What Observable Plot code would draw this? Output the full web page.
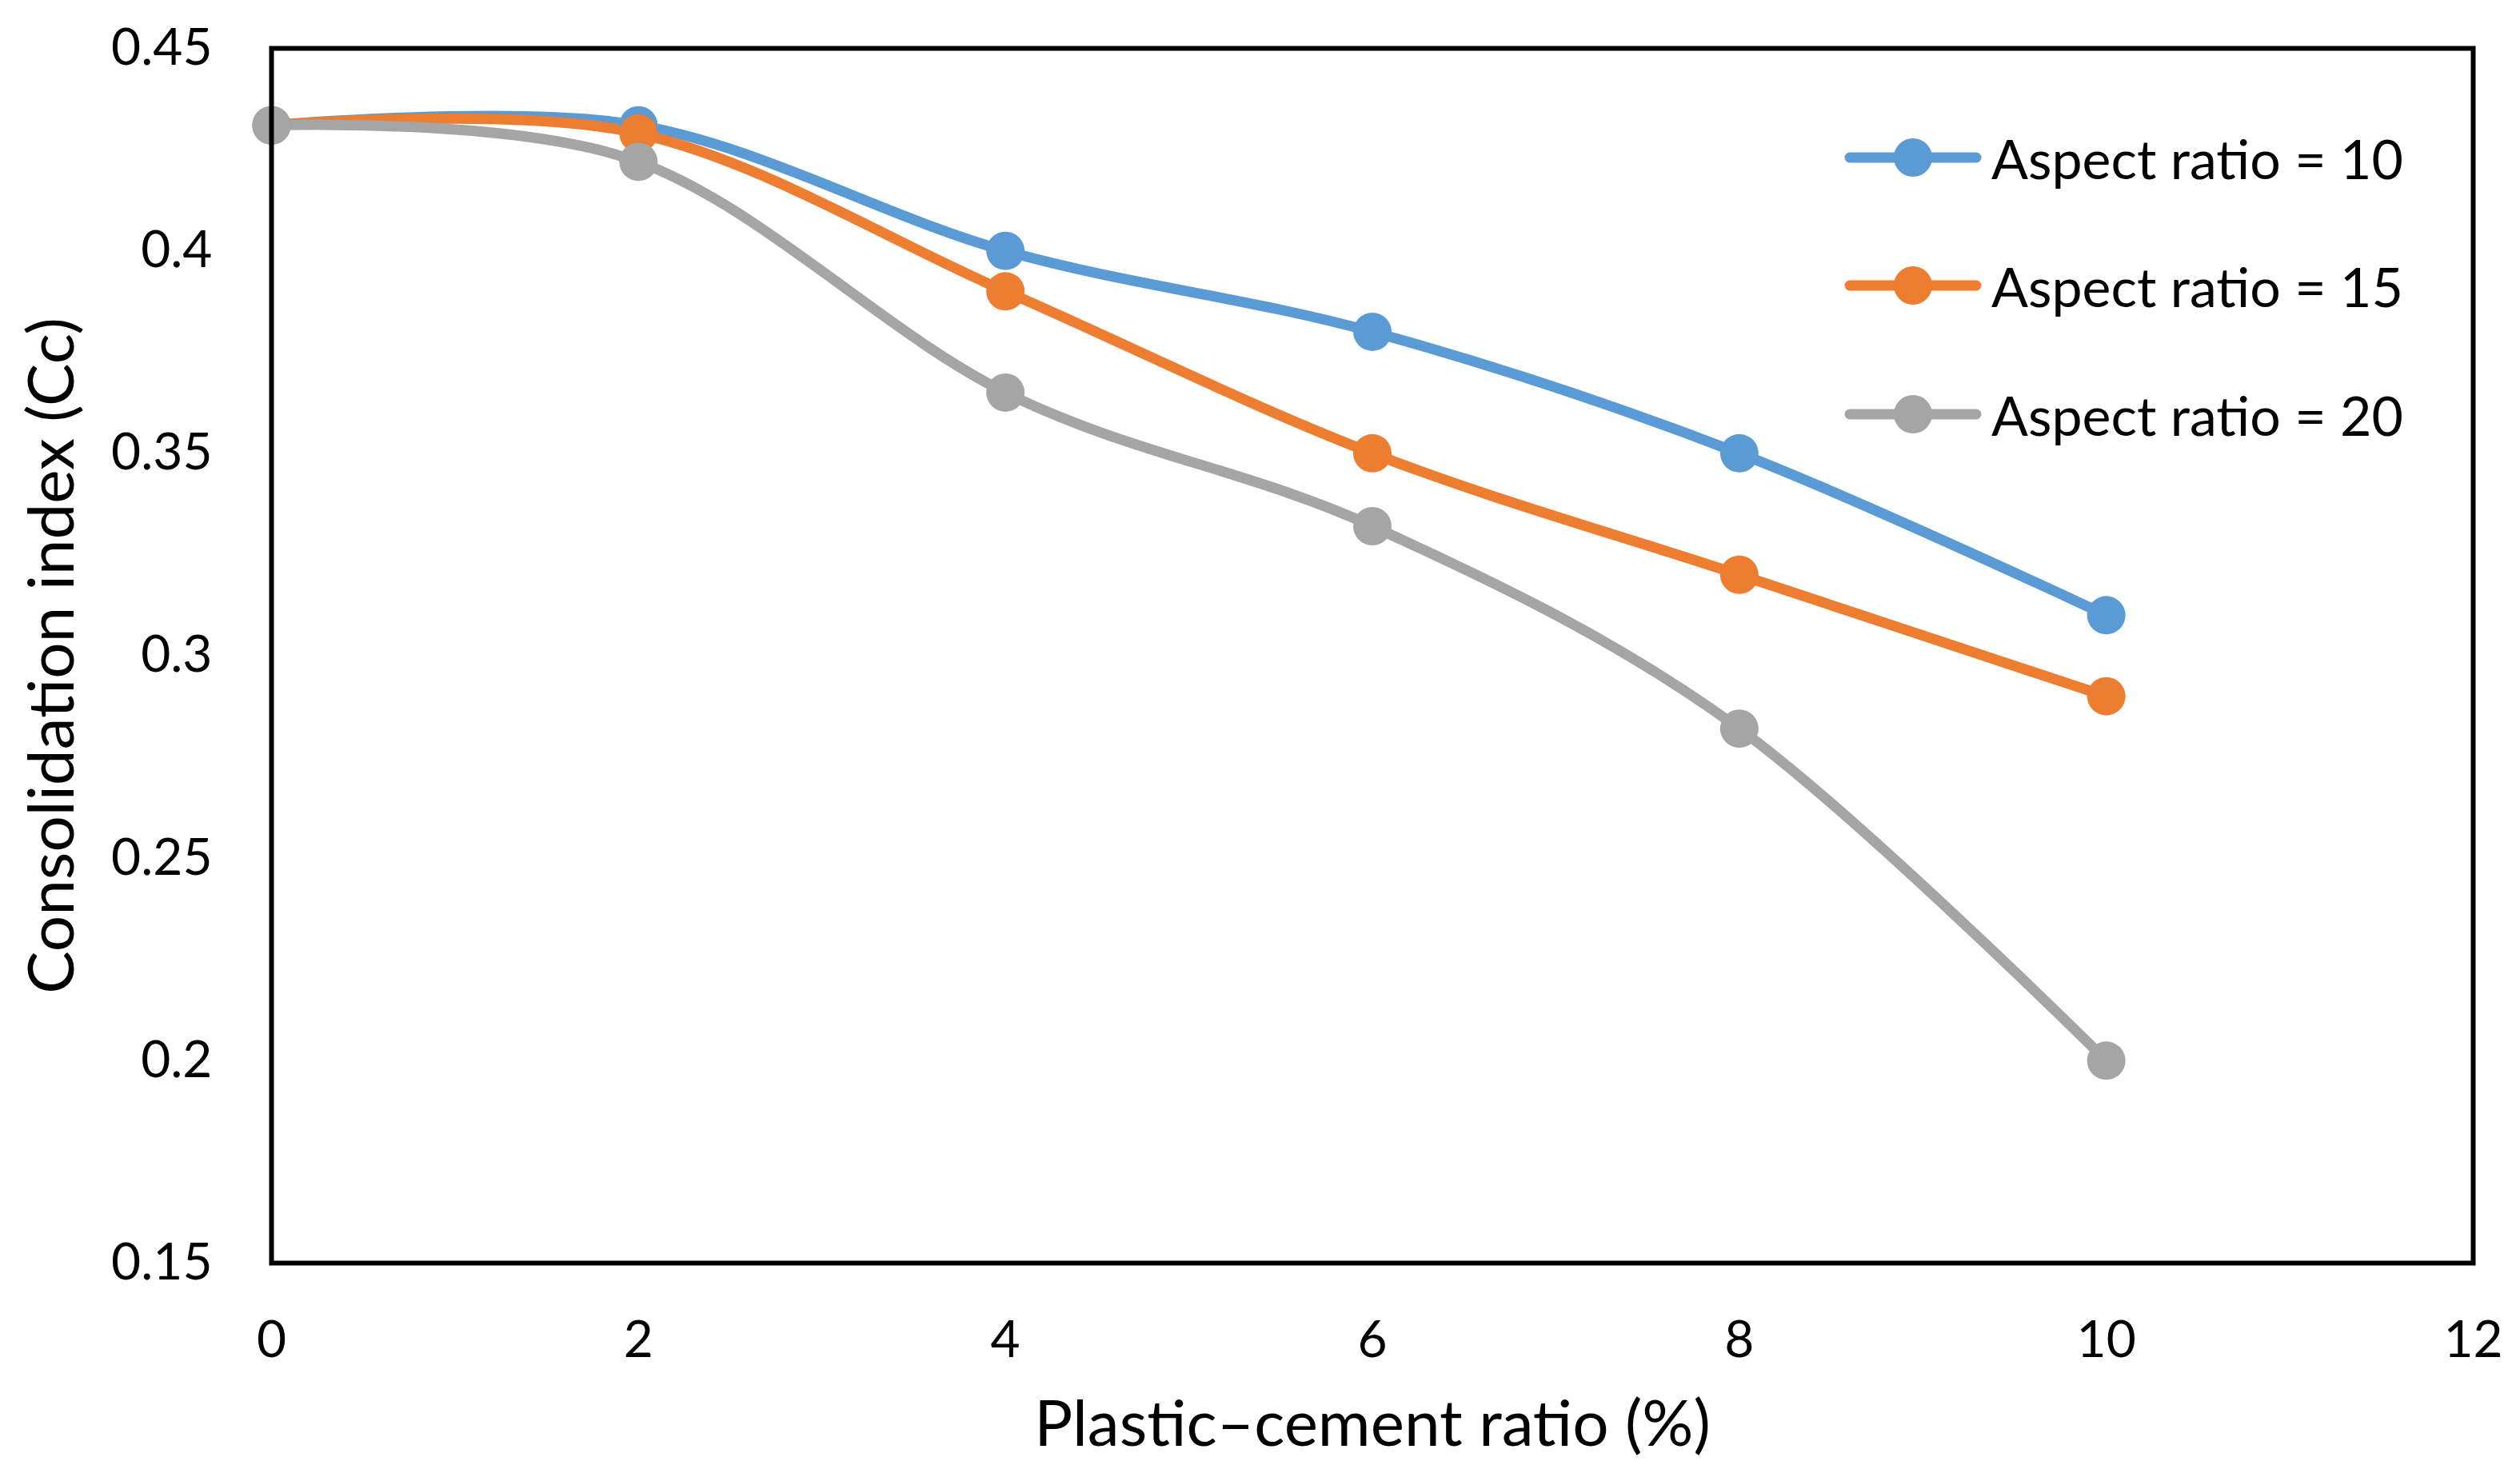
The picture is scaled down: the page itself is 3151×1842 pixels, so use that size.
<!DOCTYPE html>
<html>
<head>
<meta charset="utf-8">
<script src="https://cdn.jsdelivr.net/npm/d3@7"></script>
<script src="https://cdn.jsdelivr.net/npm/@observablehq/plot@0.6"></script>
<style>
  html, body { margin: 0; padding: 0; background: #fff; }
  #wrap { position: relative; width: 3151px; height: 1842px; font-family: Lato, "Open Sans", sans-serif; }
  #legend { position: absolute; left: 2306px; top: 0; }
  .row { position: absolute; left: 0; display: flex; align-items: center; height: 80px; white-space: nowrap; }
  .row span { font-size: 68px; color: #000; margin-left: 12px; }
</style>
</head>
<body>
<div id="wrap"></div>
<script>
const plasticCement = [0, 2, 4, 6, 8, 10];
const seriesNames = ["Aspect ratio = 10", "Aspect ratio = 15", "Aspect ratio = 20"];
const ar10 = [0.431, 0.431, 0.400, 0.380, 0.350, 0.310];
const ar15 = [0.431, 0.429, 0.390, 0.350, 0.320, 0.290];
const ar20 = [0.431, 0.422, 0.365, 0.332, 0.282, 0.200];
const seriesColors = ["#5B9BD5", "#ED7D31", "#A5A5A5"];
const xTicks = [0, 2, 4, 6, 8, 10, 12];
const yTicks = [0.15, 0.2, 0.25, 0.3, 0.35, 0.4, 0.45];

const allSeries = [ar10, ar15, ar20];
const data = [];
allSeries.forEach((vals, i) => {
  vals.forEach((v, j) => data.push({series: seriesNames[i], x: plasticCement[j], y: v}));
});

const W = 3151, H = 1842;
const chart = Plot.plot({
  width: W,
  height: H,
  marginLeft: 339,
  marginRight: 59,
  marginTop: 60,
  marginBottom: 263,
  style: {fontFamily: "Lato, 'Open Sans', sans-serif", fontSize: "64px", color: "#000", background: "#fff"},
  x: {domain: [0, 12], ticks: xTicks},
  y: {domain: [0.15, 0.45], ticks: yTicks},
  color: {domain: seriesNames, range: seriesColors},
  marks: [
    Plot.axisX({ticks: xTicks, tickSize: 0, tickPadding: 72, tickFormat: d => String(d), fontSize: 64, label: null}),
    Plot.axisX({ticks: [], tickSize: 0, label: "Plastic–cement ratio (%)", labelAnchor: "center", labelArrow: "none", labelOffset: 228, fontSize: 80}),
    Plot.axisY({ticks: yTicks, tickSize: 0, tickPadding: 74, tickFormat: d => String(+d.toFixed(2)), fontSize: 64, label: null}),
    Plot.axisY({ticks: [], tickSize: 0, label: "Consolidation index (Cc)", labelAnchor: "center", labelArrow: "none", labelOffset: 304, fontSize: 80}),
    Plot.line(data, {x: "x", y: "y", z: "series", stroke: "series", strokeWidth: 13, curve: "cardinal", tension: 0, strokeLinecap: "round"}),
    Plot.dot(data, {x: "x", y: "y", fill: "series", r: 24, stroke: "none"}),
    Plot.frame({stroke: "#000", strokeWidth: 6})
  ]
});

const wrap = document.getElementById("wrap");
wrap.appendChild(chart);

// legend (inside the plot area, as in the reference)
const legend = document.createElement("div");
legend.id = "legend";
const rowCenters = [197, 357, 518];
seriesNames.forEach((name, i) => {
  const row = document.createElement("div");
  row.className = "row";
  row.style.top = (rowCenters[i] - 40) + "px";
  const ns = "http://www.w3.org/2000/svg";
  const svg = document.createElementNS(ns, "svg");
  svg.setAttribute("width", 172);
  svg.setAttribute("height", 80);
  const ln = document.createElementNS(ns, "line");
  ln.setAttribute("x1", 7); ln.setAttribute("x2", 165);
  ln.setAttribute("y1", 40); ln.setAttribute("y2", 40);
  ln.setAttribute("stroke", seriesColors[i]);
  ln.setAttribute("stroke-width", 13);
  ln.setAttribute("stroke-linecap", "round");
  const c = document.createElementNS(ns, "circle");
  c.setAttribute("cx", 86); c.setAttribute("cy", 40); c.setAttribute("r", 24);
  c.setAttribute("fill", seriesColors[i]);
  svg.appendChild(ln); svg.appendChild(c);
  const t = document.createElement("span");
  t.textContent = name;
  row.appendChild(svg); row.appendChild(t);
  legend.appendChild(row);
});
wrap.appendChild(legend);
</script>
</body>
</html>
